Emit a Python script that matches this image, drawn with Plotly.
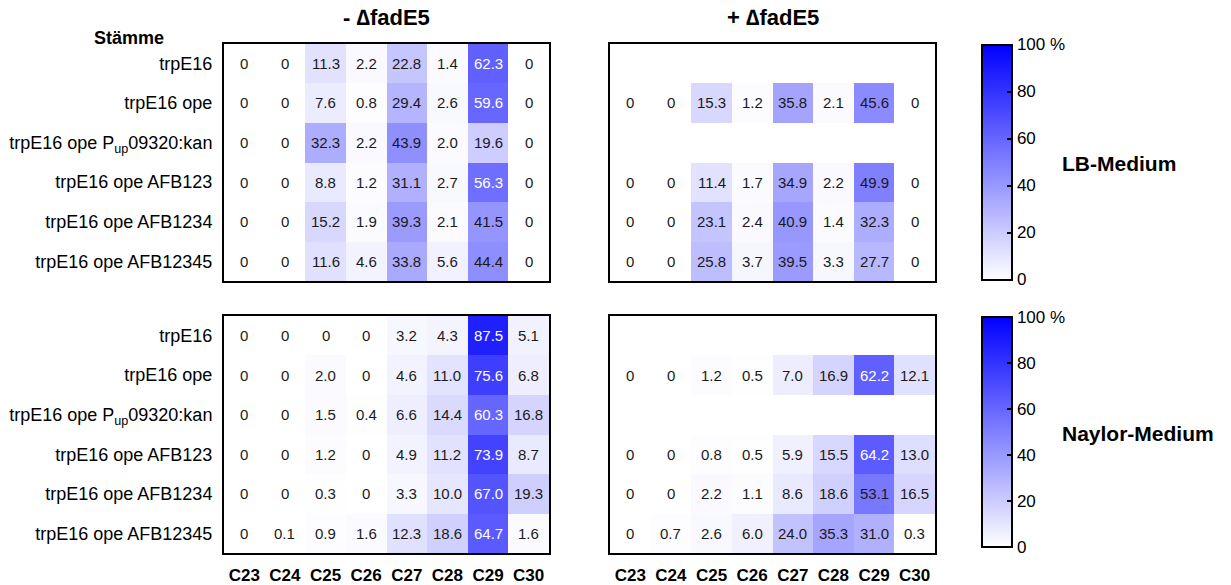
import plotly.graph_objects as go

# Fatty-acid chain-length distribution (%) per strain
chains = ["C23", "C24", "C25", "C26", "C27", "C28", "C29", "C30"]
strains = [
    "trpE16",
    "trpE16 ope",
    "trpE16 ope P<sub>up</sub>09320:kan",
    "trpE16 ope AFB123",
    "trpE16 ope AFB1234",
    "trpE16 ope AFB12345",
]

lb_minus = [
    [0, 0, 11.3, 2.2, 22.8, 1.4, 62.3, 0],
    [0, 0, 7.6, 0.8, 29.4, 2.6, 59.6, 0],
    [0, 0, 32.3, 2.2, 43.9, 2.0, 19.6, 0],
    [0, 0, 8.8, 1.2, 31.1, 2.7, 56.3, 0],
    [0, 0, 15.2, 1.9, 39.3, 2.1, 41.5, 0],
    [0, 0, 11.6, 4.6, 33.8, 5.6, 44.4, 0],
]
lb_plus = [
    None,
    [0, 0, 15.3, 1.2, 35.8, 2.1, 45.6, 0],
    None,
    [0, 0, 11.4, 1.7, 34.9, 2.2, 49.9, 0],
    [0, 0, 23.1, 2.4, 40.9, 1.4, 32.3, 0],
    [0, 0, 25.8, 3.7, 39.5, 3.3, 27.7, 0],
]
naylor_minus = [
    [0, 0, 0, 0, 3.2, 4.3, 87.5, 5.1],
    [0, 0, 2.0, 0, 4.6, 11.0, 75.6, 6.8],
    [0, 0, 1.5, 0.4, 6.6, 14.4, 60.3, 16.8],
    [0, 0, 1.2, 0, 4.9, 11.2, 73.9, 8.7],
    [0, 0, 0.3, 0, 3.3, 10.0, 67.0, 19.3],
    [0, 0.1, 0.9, 1.6, 12.3, 18.6, 64.7, 1.6],
]
naylor_plus = [
    None,
    [0, 0, 1.2, 0.5, 7.0, 16.9, 62.2, 12.1],
    None,
    [0, 0, 0.8, 0.5, 5.9, 15.5, 64.2, 13.0],
    [0, 0, 2.2, 1.1, 8.6, 18.6, 53.1, 16.5],
    [0, 0.7, 2.6, 6.0, 24.0, 35.3, 31.0, 0.3],
]

cbar_vals = [0, 20, 40, 60, 80, 100]
cbar_text = ["0", "20", "40", "60", "80", "100 %"]

FONT = "Arial, 'Liberation Sans', sans-serif"
scale = [[0, "#ffffff"], [1, "#0000ff"]]


def fill(rows):
    return [r if r is not None else [None] * len(chains) for r in rows]


def label(v):
    if v is None:
        return ""
    return "0" if v == 0 else f"{v:.1f}"


panels = [
    (lb_minus, "x", "y", "coloraxis"),
    (lb_plus, "x2", "y2", "coloraxis"),
    (naylor_minus, "x3", "y3", "coloraxis2"),
    (naylor_plus, "x4", "y4", "coloraxis2"),
]

fig = go.Figure()
annotations = []
for rows, xa, ya, ca in panels:
    z = fill(rows)
    fig.add_trace(go.Heatmap(
        z=z, x=chains, y=strains, xaxis=xa, yaxis=ya, coloraxis=ca,
        xgap=0, ygap=0, hoverinfo="skip",
    ))
    for i, row in enumerate(z):
        for j, v in enumerate(row):
            if v is None:
                continue
            annotations.append(dict(
                x=chains[j], y=strains[i], xref=xa, yref=ya,
                text=label(v), showarrow=False,
                font=dict(family=FONT, size=15,
                          color="white" if v > 55 else "#1a1a1a"),
            ))

W, H = 1231, 585
xl = [224 / W, 549 / W]
xr = [610 / W, 935 / W]
yt = [1 - 284 / H, 1 - 44 / H]
yb = [1 - 559 / H, 1 - 319 / H]
CB_X0 = 982

axis_common = dict(showline=True, linewidth=2, linecolor="black", mirror=True,
                   showgrid=False, zeroline=False, ticks="")


def xaxis(dom, anchor, show):
    return dict(axis_common, domain=dom, anchor=anchor, showticklabels=show,
                tickfont=dict(family=FONT, size=17, color="black", weight="bold"),
                ticklabelstandoff=5)


def yaxis(dom, anchor, show):
    return dict(axis_common, domain=dom, anchor=anchor, showticklabels=show,
                autorange="reversed",
                tickfont=dict(family=FONT, size=18, color="black"),
                ticklabelstandoff=6)


def cbar(dom, top_px, bottom_px):
    return dict(
        x=CB_X0 / W, xanchor="left", xpad=0, ypad=0,
        y=1 - top_px / H, yanchor="top", len=(bottom_px - top_px) / H,
        lenmode="fraction", thickness=30, thicknessmode="pixels",
        outlinewidth=2, outlinecolor="black",
        tickvals=cbar_vals, ticktext=cbar_text, ticks="inside",
        ticklen=6, tickwidth=2, tickcolor="black",
        tickfont=dict(family=FONT, size=17, color="black"),
    )


cb_top = (45, 282)
cb_bot = (320, 552)

# matching tick marks on the left edge of each colour bar
shapes = []
for top_px, bottom_px in (cb_top, cb_bot):
    for v in cbar_vals[1:-1]:
        yy = 1 - (bottom_px - v / 100 * (bottom_px - top_px)) / H
        shapes.append(dict(type="line", xref="paper", yref="paper",
                           x0=CB_X0 / W, x1=(CB_X0 + 6) / W, y0=yy, y1=yy,
                           line=dict(color="black", width=2)))

annotations += [
    dict(x=(xl[0] + xl[1]) / 2, y=1 - 18 / H, xref="paper", yref="paper",
         xanchor="center", yanchor="middle",
         text="<b>- \u2206fadE5</b>", showarrow=False,
         font=dict(family=FONT, size=22, color="black")),
    dict(x=(xr[0] + xr[1]) / 2, y=1 - 18 / H, xref="paper", yref="paper",
         xanchor="center", yanchor="middle",
         text="<b>+ \u2206fadE5</b>", showarrow=False,
         font=dict(family=FONT, size=22, color="black")),
    dict(x=92 / W, y=1 - 38 / H, xref="paper", yref="paper",
         xanchor="left", yanchor="middle",
         text="<b>Stämme</b>", showarrow=False,
         font=dict(family=FONT, size=18, color="black")),
    dict(x=1060 / W, y=1 - 165 / H, xref="paper", yref="paper",
         xanchor="left", yanchor="middle",
         text="<b>LB-Medium</b>", showarrow=False,
         font=dict(family=FONT, size=21, color="black")),
    dict(x=1060 / W, y=1 - 438 / H, xref="paper", yref="paper",
         xanchor="left", yanchor="middle",
         text="<b>Naylor-Medium</b>", showarrow=False,
         font=dict(family=FONT, size=21, color="black")),
]

fig.update_layout(
    width=W, height=H,
    margin=dict(l=0, r=0, t=0, b=0),
    paper_bgcolor="white", plot_bgcolor="white",
    font=dict(family=FONT, color="black"),
    xaxis=xaxis(xl, "y", False), yaxis=yaxis(yt, "x", True),
    xaxis2=xaxis(xr, "y2", False), yaxis2=yaxis(yt, "x2", False),
    xaxis3=xaxis(xl, "y3", True), yaxis3=yaxis(yb, "x3", True),
    xaxis4=xaxis(xr, "y4", True), yaxis4=yaxis(yb, "x4", False),
    coloraxis=dict(colorscale=scale, cmin=0, cmax=100, colorbar=cbar(yt, *cb_top)),
    coloraxis2=dict(colorscale=scale, cmin=0, cmax=100, colorbar=cbar(yb, *cb_bot)),
    annotations=annotations,
    shapes=shapes,
)

fig.write_html("out.html")
